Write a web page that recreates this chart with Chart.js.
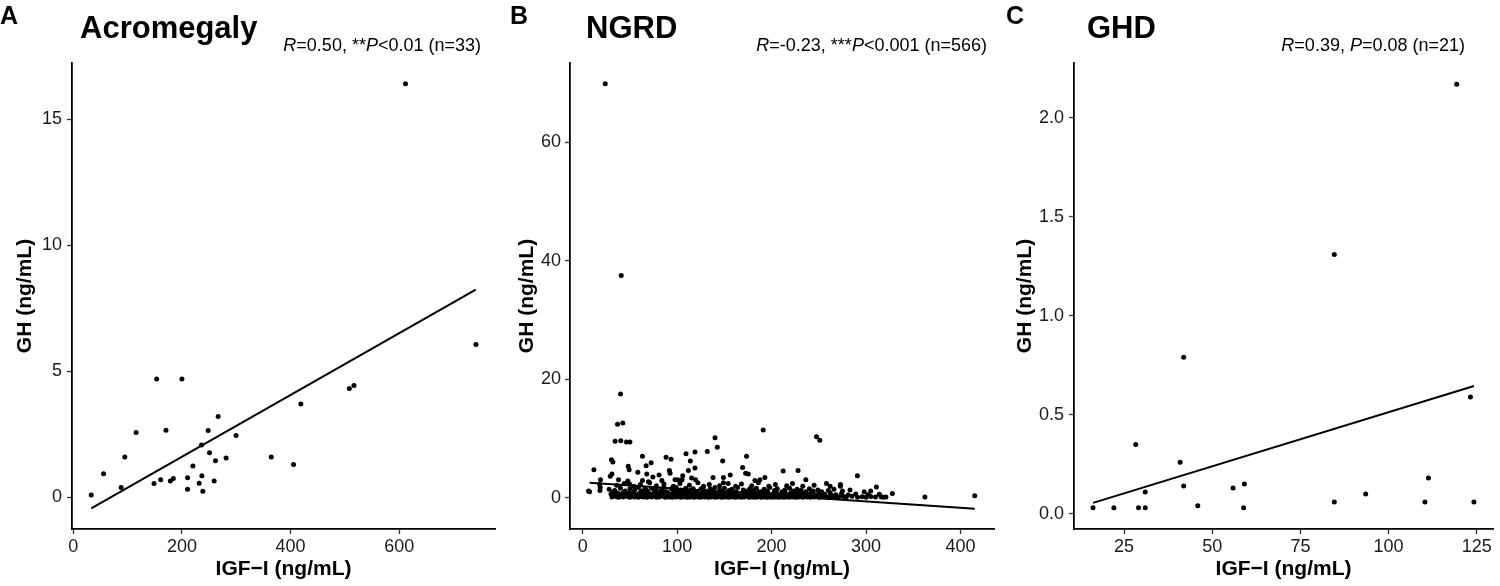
<!DOCTYPE html>
<html>
<head>
<meta charset="utf-8">
<script src="https://cdn.jsdelivr.net/npm/chart.js@4.4.1/dist/chart.umd.min.js"></script>
<style>
body { margin: 0; background: #fff; }
#wrap { position: relative; width: 1500px; height: 586px; overflow: hidden; font-family: "Liberation Sans", Arial, sans-serif; color: #000; }
.panel { position: absolute; top: 0; width: 500px; height: 586px; }
.lbl { position: absolute; top: 3px; font-weight: bold; font-size: 25px; line-height: 25px; }
.ttl { position: absolute; top: 12px; font-weight: bold; font-size: 31px; line-height: 31px; }
.ann { position: absolute; top: 36px; font-size: 18px; line-height: 18px; white-space: nowrap; }
</style>
</head>
<body>
<div id="wrap">
  <canvas id="chartA" class="panel" style="left:0px" width="500" height="586"></canvas>
  <canvas id="chartB" class="panel" style="left:500px" width="500" height="586"></canvas>
  <canvas id="chartC" class="panel" style="left:1000px" width="500" height="586"></canvas>

  <div class="lbl" style="left:0px">A</div>
  <div class="ttl" style="left:80px">Acromegaly</div>
  <div class="ann" style="right:1019px"><i>R</i>=0.50, **<i>P</i>&lt;0.01 (n=33)</div>

  <div class="lbl" style="left:510px">B</div>
  <div class="ttl" style="left:586px">NGRD</div>
  <div class="ann" style="right:513px"><i>R</i>=-0.23, ***<i>P</i>&lt;0.001 (n=566)</div>

  <div class="lbl" style="left:1006px">C</div>
  <div class="ttl" style="left:1087px">GHD</div>
  <div class="ann" style="right:35px"><i>R</i>=0.39, <i>P</i>=0.08 (n=21)</div>
</div>

<script>
// values: [IGF-I, GH]
const acroPoints = [
  [33.0, 0.09], [55.7, 0.93], [88.1, 0.39], [94.8, 1.60], [115.6, 2.57], [148.6, 0.55],
  [153.5, 4.69], [160.8, 0.70], [170.6, 2.66], [178.6, 0.65], [184.1, 0.74], [200.0, 4.69],
  [210.4, 0.77], [210.4, 0.32], [220.2, 1.24], [231.8, 0.56], [236.1, 2.07], [236.7, 0.85],
  [238.5, 0.24], [248.3, 2.65], [250.8, 1.77], [259.3, 0.65], [261.8, 1.45], [266.7, 3.21],
  [281.3, 1.56], [299.7, 2.45], [364.5, 1.60], [405.5, 1.30], [418.9, 3.70], [508.2, 4.32],
  [516.8, 4.44], [611.6, 16.42], [741.3, 6.06]
];
const acroFitX = [33, 741];
const acroFitY = [-0.44, 8.24];

const ngrdPoints = [
  // scattered high values
  [23.9, 69.9], [40.8, 37.5], [40.1, 17.5], [36.9, 12.4], [42.5, 12.6], [34.4, 9.5], [40.4, 9.6],
  [46.4, 9.4], [50.0, 9.4], [30.5, 6.4], [32.0, 6.0], [11.9, 4.7], [63.3, 7.0], [88.3, 6.8],
  [93.6, 6.5], [109.4, 7.4], [118.9, 7.7], [131.9, 7.8], [140.1, 10.1], [142.5, 8.5], [148.2, 6.2],
  [114.0, 6.2], [118.9, 5.0], [173.5, 7.0], [169.3, 5.1], [72.5, 5.9], [67.2, 5.4], [58.4, 4.3],
  [48.2, 5.3], [49.2, 4.7], [31.0, 4.0], [29.2, 3.6], [18.9, 3.0], [38.0, 3.0], [138.0, 3.4],
  [156.2, 3.8], [172.5, 4.1], [175.3, 4.0], [182.3, 2.9], [187.6, 3.0], [192.9, 3.4], [191.1, 11.4],
  [247.5, 10.3], [251.0, 9.7], [212.2, 4.5], [228.0, 4.6], [236.2, 3.0], [258.0, 2.4], [272.8, 2.2],
  [272.8, 1.9], [290.8, 3.7], [310.9, 1.8], [304.9, 1.1], [327.8, 0.7], [362.2, 0.1], [415.0, 0.3],
  [67.9, 4.0], [74.3, 3.5], [80.9, 3.8], [83.8, 2.9], [91.8, 4.6], [92.5, 4.1], [97.8, 3.0],
  [100.6, 3.0], [105.2, 3.0], [105.9, 3.7], [111.9, 4.6], [115.4, 3.3], [119.5, 3.0], [149.0, 2.5],
  [149.0, 3.4], [47.8, 2.8], [49.6, 2.3], [63.3, 2.9], [69.6, 2.7], [18.6, 1.7], [18.3, 1.2],
  [7.3, 1.0], [6.2, 1.1], [18.0, 2.2],
  // 1.8 - 2.6
  [36, 2.1], [44, 2.4], [54, 1.9], [61, 2.2], [71, 2.5], [78, 2.0], [86, 2.3], [96, 1.9], [103, 2.4],
  [113, 2.1], [122, 2.5], [128, 1.9], [134, 2.2], [145, 2.0], [154, 2.4], [162, 1.9], [168, 2.3],
  [179, 2.0], [186, 2.5], [197, 1.9], [204, 2.2], [216, 2.0], [222, 2.4], [233, 1.9], [245, 2.1], [262, 1.9],
  // 1.0 - 1.8
  [28, 1.4], [34, 1.2], [40, 1.6], [45, 1.1], [50, 1.5], [55, 1.3], [59, 1.7], [62, 1.1], [66, 1.5],
  [68, 1.2], [73, 1.6], [76, 1.0], [78, 1.4], [83, 1.2], [86, 1.7], [89, 1.0], [94, 1.5], [97, 1.2],
  [99, 1.7], [104, 1.3], [107, 1.0], [109, 1.6], [114, 1.2], [117, 1.5], [120, 1.0], [125, 1.4],
  [127, 1.7], [130, 1.1], [135, 1.5], [138, 1.2], [140, 1.7], [145, 1.3], [148, 1.0], [150, 1.6],
  [155, 1.2], [158, 1.4], [161, 1.0], [164, 1.7], [170, 1.3], [174, 1.1], [177, 1.5], [181, 1.2],
  [184, 1.6], [188, 1.0], [192, 1.4], [195, 1.1], [198, 1.7], [203, 1.2], [206, 1.5], [211, 1.0],
  [214, 1.3], [219, 1.6], [223, 1.1], [227, 1.4], [231, 1.2], [236, 1.0], [240, 1.5], [244, 1.1],
  [249, 1.3], [253, 1.0], [260, 1.2], [266, 1.4], [275, 1.1], [283, 1.3], [298, 1.0],
  // 0.4 - 0.95
  [30, 0.6], [32, 0.9], [35, 0.5], [37, 0.8], [39, 0.45], [42, 0.7], [44, 0.9], [47, 0.5], [49, 0.8],
  [52, 0.6], [54, 0.9], [57, 0.45], [60, 0.75], [62, 0.5], [65, 0.9], [67, 0.6], [70, 0.8], [72, 0.45],
  [75, 0.7], [77, 0.9], [80, 0.5], [82, 0.8], [84, 0.6], [87, 0.9], [88, 0.45], [91, 0.7], [93, 0.5],
  [96, 0.85], [98, 0.6], [101, 0.9], [102, 0.45], [105, 0.7], [107, 0.55], [110, 0.9], [112, 0.6],
  [115, 0.8], [116, 0.45], [119, 0.7], [121, 0.9], [123, 0.5], [126, 0.75], [128, 0.6], [131, 0.9],
  [132, 0.45], [135, 0.7], [137, 0.55], [139, 0.85], [141, 0.5], [144, 0.7], [146, 0.9], [148, 0.45],
  [151, 0.65], [153, 0.85], [156, 0.5], [158, 0.75], [160, 0.55], [163, 0.9], [165, 0.45], [167, 0.7],
  [170, 0.85], [172, 0.5], [175, 0.7], [178, 0.9], [180, 0.45], [183, 0.65], [186, 0.85], [188, 0.5],
  [191, 0.75], [194, 0.55], [196, 0.9], [199, 0.45], [202, 0.7], [205, 0.85], [208, 0.5], [211, 0.7],
  [214, 0.9], [217, 0.5], [220, 0.75], [224, 0.55], [227, 0.85], [230, 0.45], [234, 0.7], [238, 0.6],
  [242, 0.85], [247, 0.5], [251, 0.7], [256, 0.55], [262, 0.8], [268, 0.5], [274, 0.7], [281, 0.45],
  [289, 0.6], [302, 0.5], [314, 0.55],
  // 0 - 0.35
  [31, 0.1], [33, 0.3], [36, 0.15], [38, 0.05], [41, 0.25], [43, 0.1], [46, 0.3], [48, 0.15], [50, 0.05],
  [53, 0.25], [55, 0.1], [58, 0.3], [59, 0.05], [61, 0.2], [64, 0.1], [66, 0.3], [68, 0.05], [71, 0.2],
  [73, 0.1], [76, 0.3], [78, 0.05], [79, 0.2], [81, 0.1], [83, 0.3], [86, 0.15], [88, 0.05], [90, 0.25],
  [92, 0.1], [94, 0.3], [95, 0.05], [97, 0.2], [99, 0.1], [100, 0.3], [103, 0.15], [104, 0.05], [106, 0.25],
  [108, 0.1], [109, 0.3], [111, 0.05], [113, 0.2], [114, 0.1], [116, 0.3], [118, 0.05], [120, 0.2],
  [122, 0.1], [124, 0.3], [125, 0.05], [127, 0.2], [129, 0.1], [130, 0.3], [133, 0.05], [134, 0.2],
  [136, 0.1], [138, 0.3], [140, 0.05], [142, 0.2], [143, 0.1], [145, 0.3], [147, 0.05], [149, 0.2],
  [150, 0.1], [152, 0.3], [154, 0.05], [155, 0.2], [157, 0.1], [159, 0.3], [161, 0.05], [162, 0.2],
  [164, 0.1], [166, 0.3], [168, 0.05], [169, 0.2], [171, 0.1], [173, 0.3], [176, 0.05], [177, 0.2],
  [179, 0.1], [181, 0.3], [182, 0.05], [184, 0.2], [185, 0.1], [187, 0.3], [189, 0.05], [190, 0.2],
  [192, 0.1], [193, 0.3], [195, 0.05], [197, 0.2], [198, 0.1], [200, 0.3], [201, 0.05], [203, 0.2],
  [204, 0.1], [206, 0.3], [207, 0.05], [209, 0.2], [210, 0.1], [212, 0.3], [213, 0.05], [215, 0.2],
  [216, 0.1], [218, 0.3], [219, 0.05], [221, 0.2], [223, 0.1], [225, 0.3], [226, 0.05], [228, 0.2],
  [229, 0.1], [231, 0.3], [233, 0.05], [235, 0.2], [237, 0.1], [239, 0.3], [241, 0.05], [243, 0.2],
  [245, 0.1], [248, 0.3], [250, 0.05], [252, 0.2], [254, 0.1], [257, 0.25], [259, 0.05], [261, 0.15],
  [264, 0.3], [266, 0.1], [269, 0.2], [271, 0.05], [276, 0.2], [279, 0.1], [285, 0.25], [291, 0.05],
  [296, 0.15], [300, 0.05], [305, 0.2], [310, 0.1], [316, 0.15], [318, 0.05], [321, 0.1]
];
const ngrdFitX = [7.3, 415];
const ngrdFitY = [2.53, -1.86];

const ghdPoints = [
  [16.2, 0.03], [22.1, 0.03], [28.3, 0.35], [29.1, 0.03], [31.0, 0.11], [31.0, 0.03], [40.9, 0.26],
  [41.9, 0.79], [41.9, 0.14], [45.9, 0.04], [55.9, 0.13], [58.9, 0.03], [59.1, 0.15], [84.6, 0.06],
  [84.6, 1.31], [93.5, 0.10], [110.3, 0.06], [111.3, 0.18], [119.3, 2.17], [123.2, 0.59], [124.2, 0.06]
];
const ghdFitX = [16.2, 124.2];
const ghdFitY = [0.055, 0.645];

// axis ranges and ticks
const acroXRange = [-2.4, 776.4];
const acroYRange = [-1.26, 17.24];
const acroXTicks = [0, 200, 400, 600];
const acroYTicks = [0, 5, 10, 15];

const ngrdXRange = [-13.4, 435.4];
const ngrdYRange = [-5.3, 73.4];
const ngrdXTicks = [0, 100, 200, 300, 400];
const ngrdYTicks = [0, 20, 40, 60];

const ghdXRange = [10.8, 129.6];
const ghdYRange = [-0.077, 2.277];
const ghdXTicks = [25, 50, 75, 100, 125];
const ghdYTicks = [0, 0.5, 1.0, 1.5, 2.0];

const FONT = "'Liberation Sans', Arial, sans-serif";

function drawPanel(id, points, fitX, fitY, xr, yr, xTicks, yTicks, yDigits, axisW, yTitlePad, yTickPad, rightPad) {
  let fit = fitX.map((x, i) => ({ x: x, y: fitY[i] }));
  let pts = points.map(p => ({ x: p[0], y: p[1] }));

  new Chart(document.getElementById(id), {
    type: "scatter",
    data: {
      datasets: [
        { data: fit, showLine: true, borderColor: "#000", borderWidth: 2, pointRadius: 0, fill: false },
        { data: pts, pointRadius: 2.5, pointHoverRadius: 2.5, pointBackgroundColor: "#000", pointBorderWidth: 0 }
      ]
    },
    options: {
      responsive: false,
      animation: false,
      events: [],
      layout: { padding: { top: 63, right: rightPad, bottom: 0, left: 0 } },
      plugins: { legend: { display: false }, tooltip: { enabled: false } },
      scales: {
        x: {
          type: "linear", min: xr[0], max: xr[1],
          afterBuildTicks: s => { s.ticks = xTicks.map(v => ({ value: v })); },
          afterFit: s => { s.height = 57; },
          grid: { drawOnChartArea: false, drawTicks: true, tickLength: 5, tickWidth: 1.3, tickColor: "#333", color: "#333" },
          border: { display: true, color: "#000", width: 1.8 },
          ticks: { font: { family: FONT, size: 18 }, color: "#1a1a1a", padding: 2, maxRotation: 0, autoSkip: false },
          title: { display: true, text: "IGF−I (ng/mL)", color: "#000", font: { family: FONT, size: 21, weight: "bold" }, padding: { top: 0, bottom: 4 } }
        },
        y: {
          type: "linear", min: yr[0], max: yr[1],
          afterBuildTicks: s => { s.ticks = yTicks.map(v => ({ value: v })); },
          afterFit: s => { s.width = axisW; },
          grid: { drawOnChartArea: false, drawTicks: true, tickLength: 5, tickWidth: 1.3, tickColor: "#333", color: "#333" },
          border: { display: true, color: "#000", width: 1.8 },
          ticks: {
            font: { family: FONT, size: 18 }, color: "#1a1a1a", padding: yTickPad, autoSkip: false,
            callback: v => v.toFixed(yDigits)
          },
          title: { display: true, text: "GH (ng/mL)", color: "#000", font: { family: FONT, size: 21, weight: "bold" }, padding: { top: yTitlePad, bottom: 0 } }
        }
      }
    }
  });
}

drawPanel("chartA", acroPoints, acroFitX, acroFitY, acroXRange, acroYRange, acroXTicks, acroYTicks, 0, 72, 13, 5, 5);
drawPanel("chartB", ngrdPoints, ngrdFitX, ngrdFitY, ngrdXRange, ngrdYRange, ngrdXTicks, ngrdYTicks, 0, 70, 15, 4, 6);
drawPanel("chartC", ghdPoints, ghdFitX, ghdFitY, ghdXRange, ghdYRange, ghdXTicks, ghdYTicks, 1, 74, 12.5, 5, 7);
</script>
</body>
</html>
